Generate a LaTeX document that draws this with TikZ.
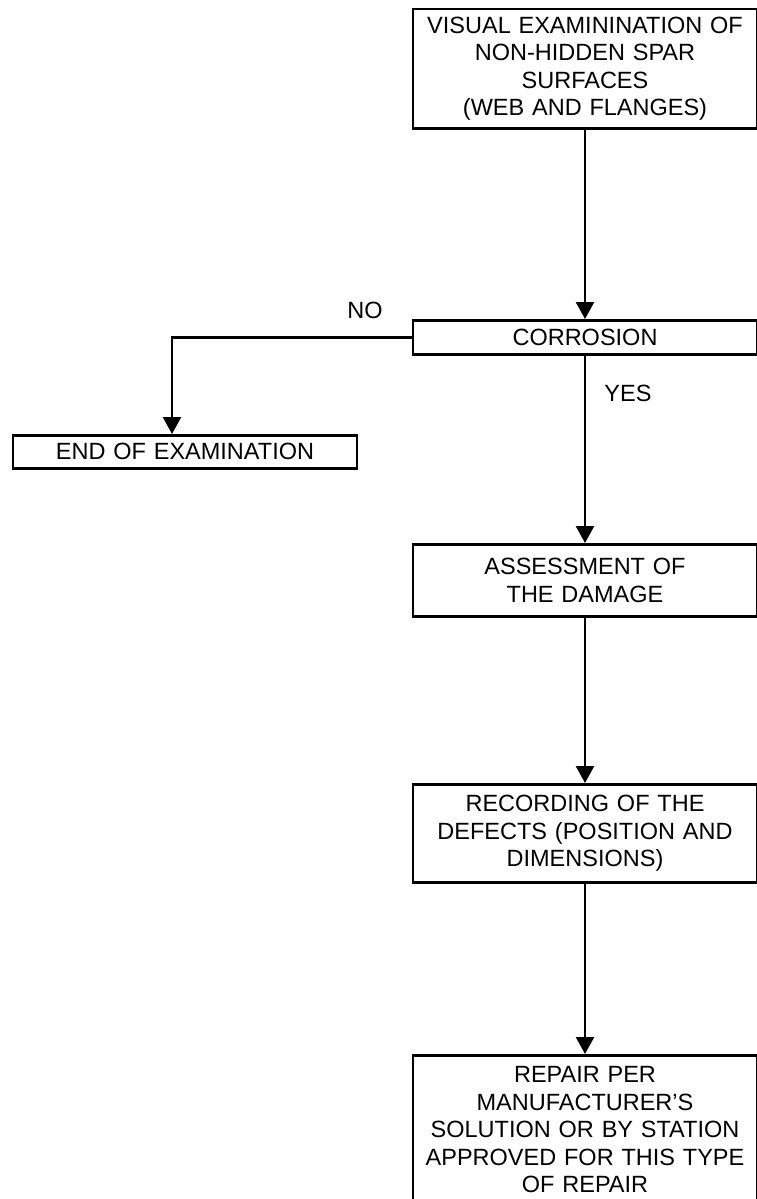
\documentclass[tikz,border=0pt]{standalone}
\usepackage{fontspec}
\setmainfont{Liberation Sans}
\usetikzlibrary{arrows.meta}

\begin{document}
\begin{tikzpicture}[x=1pt, y=-1pt, >={Triangle[width=18pt,length=17pt]}, line width=2.5pt,
    every node/.style={font=\fontsize{23.5}{27.5}\selectfont},
    stagebox/.style={draw, line width=2.5pt, anchor=north, align=center,
        text width=326pt, inner xsep=9pt, inner ysep=0pt}]
    \useasboundingbox (0,0) rectangle (756,1199);

    \node[stagebox, minimum height=119pt] (visual) at (585,8)
        {VISUAL EXAMININATION OF\\NON-HIDDEN SPAR\\SURFACES\\(WEB AND FLANGES)};
    \node[stagebox, minimum height=34pt] (corr) at (585,319) {CORROSION};
    \node[stagebox, minimum height=33pt] (endexam) at (185,434) {END OF EXAMINATION};
    \node[stagebox, minimum height=72pt] (assess) at (585,543) {ASSESSMENT OF\\THE DAMAGE};
    \node[stagebox, minimum height=98pt] (record) at (585,783)
        {RECORDING OF THE\\DEFECTS (POSITION AND\\DIMENSIONS)};
    \node[stagebox, minimum height=149pt] (repair) at (585,1054)
        {REPAIR PER\\MANUFACTURER'S\\SOLUTION OR BY STATION\\APPROVED FOR THIS TYPE\\OF REPAIR};

    \node (nolabel) at (365,310) {NO};
    \node (yeslabel) at (628,393) {YES};

    \draw[->] (visual) -- (corr);
    \draw[->] (corr.west) -| ([xshift=-13pt]endexam.north);
    \draw[->] (corr) -- (assess);
    \draw[->] (assess) -- (record);
    \draw[->] (record) -- (repair);
\end{tikzpicture}
\end{document}
